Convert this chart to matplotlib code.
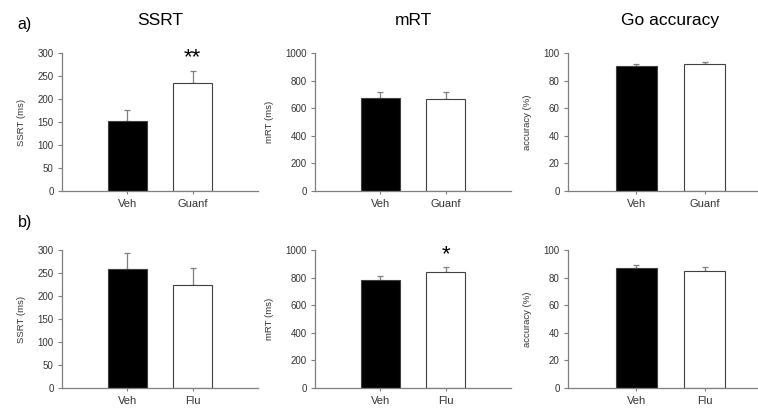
import matplotlib
matplotlib.use("Agg")
import matplotlib.pyplot as plt

plt.rcParams['font.family'] = ['Liberation Sans', 'DejaVu Sans']

groups_a = ["Veh", "Guanf"]
groups_b = ["Veh", "Flu"]
titles = ["SSRT", "mRT", "Go accuracy"]
ylabels = ["SSRT (ms)", "mRT (ms)", "accuracy (%)"]
ylims = [300, 1000, 100]
ysteps = [50, 200, 20]

# row a (Guanfacine)
ssrt_a = [153, 234]
ssrt_a_err = [22, 28]
mrt_a = [677, 667]
mrt_a_err = [40, 50]
acc_a = [91, 92.5]
acc_a_err = [1.2, 1.0]
# row b (Flu)
ssrt_b = [260, 223]
ssrt_b_err = [33, 38]
mrt_b = [780, 845]
mrt_b_err = [31, 32]
acc_b = [87.2, 85.2]
acc_b_err = [2.3, 2.8]

# significance marks per column (above second bar)
sig_a = ["**", "", ""]
sig_b = ["", "*", ""]

rows = [
    (groups_a, [(ssrt_a, ssrt_a_err), (mrt_a, mrt_a_err), (acc_a, acc_a_err)], sig_a),
    (groups_b, [(ssrt_b, ssrt_b_err), (mrt_b, mrt_b_err), (acc_b, acc_b_err)], sig_b),
]

W, H = 758, 411
fig = plt.figure(figsize=(W / 100, H / 100), dpi=100)

col_left = [62, 315, 568]
col_width = [196, 196, 205]
row_bottom = [190.7, 387.7]
row_height = 137.5

gray = "#7f7f7f"
textc = "#333333"

for r, (groups, data, sigs) in enumerate(rows):
    for c in range(3):
        ax = fig.add_axes([col_left[c] / W, 1 - row_bottom[r] / H,
                           col_width[c] / W, row_height / H])
        vals, errs = data[c]
        x = [1, 2]
        ax.bar(x, vals, width=0.6, color=["black", "white"],
               edgecolor="#404040", linewidth=0.8, zorder=2)
        ax.errorbar(x, vals, yerr=[[0, 0], errs], fmt="none",
                    ecolor=gray, elinewidth=0.9, capsize=2.5, capthick=0.9, zorder=1)
        ax.set_xlim(0, 3)
        ax.set_ylim(0, ylims[c])
        ax.set_yticks(range(0, ylims[c] + 1, ysteps[c]))
        ax.set_xticks(x)
        ax.set_xticklabels(groups)
        for s in ["top", "right"]:
            ax.spines[s].set_visible(False)
        for s in ["left", "bottom"]:
            ax.spines[s].set_color(gray)
            ax.spines[s].set_linewidth(0.9)
        ax.tick_params(axis="y", labelsize=7, colors=gray, labelcolor=textc,
                       length=3, width=0.8, pad=3)
        ax.tick_params(axis="x", labelsize=8, colors=gray, labelcolor=textc,
                       length=2, width=0.8, pad=4)
        ax.set_ylabel(ylabels[c], fontsize=6.8, color=textc, labelpad=8)
        if sigs[c]:
            i = 1
            ax.text(x[i], vals[i] + errs[i] + ylims[c] * 0.015, sigs[c],
                    ha="center", va="bottom", fontsize=16, color="black")
        if r == 0:
            ax.set_title(titles[c], fontsize=12.5, color="black", pad=20)

fig.text(25 / W, 1 - 25 / H, "a)", fontsize=11.5, ha="center", va="center")
fig.text(25 / W, 1 - 222 / H, "b)", fontsize=11.5, ha="center", va="center")

fig.savefig("out.png", dpi=100)
